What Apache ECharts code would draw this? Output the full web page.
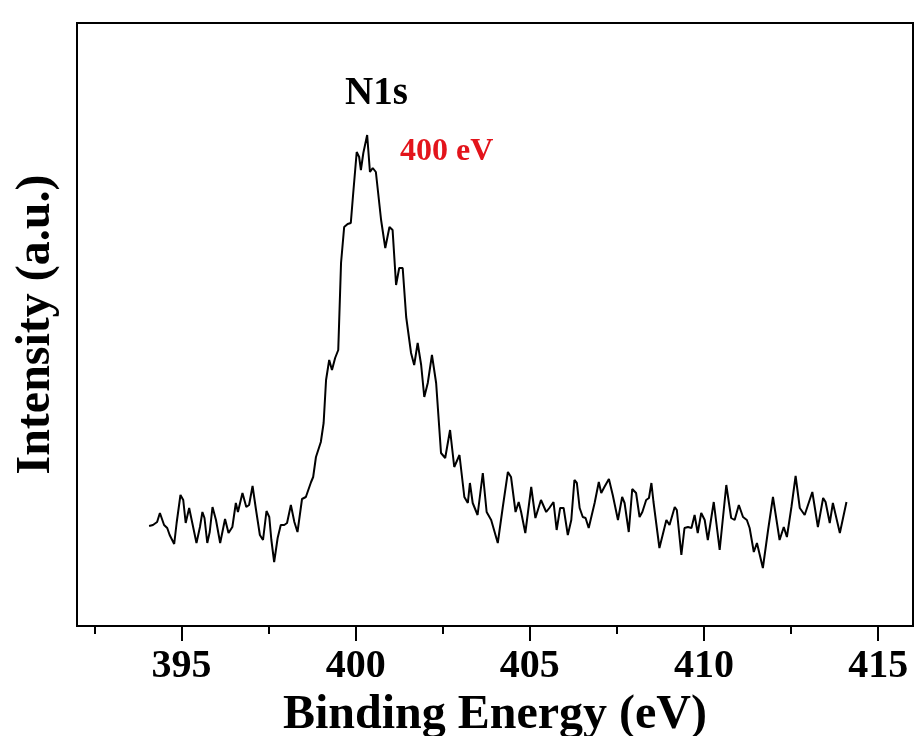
<!DOCTYPE html>
<html>
<head>
<meta charset="utf-8">
<script src="https://cdn.jsdelivr.net/npm/echarts@6/dist/echarts.min.js"></script>
<style>
  html, body { margin: 0; padding: 0; background: #fff; }
  #chart { width: 914px; height: 736px; }
</style>
</head>
<body>
<div id="chart"></div>
<script>
  // binding energy (eV) and intensity (a.u.)
  const energy = [
    394.07, 394.18, 394.30, 394.38, 394.43, 394.50, 394.59, 394.66, 394.79, 394.86,
    394.97, 395.05, 395.12, 395.22, 395.31, 395.43, 395.53, 395.60, 395.66, 395.74,
    395.81, 395.89, 395.99, 396.11, 396.25, 396.35, 396.46, 396.56, 396.62, 396.75,
    396.86, 396.94, 397.04, 397.14, 397.25, 397.34, 397.44, 397.52, 397.58, 397.66,
    397.76, 397.85, 397.95, 398.03, 398.14, 398.24, 398.33, 398.46, 398.57, 398.72,
    398.78, 398.86, 399.00, 399.08, 399.15, 399.24, 399.32, 399.41, 399.50, 399.58,
    399.67, 399.77, 399.86, 399.93, 400.03, 400.10, 400.15, 400.22, 400.33, 400.41,
    400.49, 400.58, 400.73, 400.85, 400.97, 401.06, 401.16, 401.25, 401.35, 401.45,
    401.59, 401.68, 401.78, 401.88, 401.97, 402.07, 402.19, 402.31, 402.45, 402.57,
    402.71, 402.83, 402.98, 403.12, 403.22, 403.28, 403.36, 403.50, 403.65, 403.76,
    403.89, 404.08, 404.22, 404.37, 404.46, 404.59, 404.68, 404.75, 404.87, 405.04,
    405.16, 405.32, 405.47, 405.56, 405.68, 405.77, 405.87, 405.97, 406.09, 406.19,
    406.28, 406.35, 406.43, 406.52, 406.60, 406.69, 406.86, 406.98, 407.05, 407.14,
    407.27, 407.38, 407.53, 407.65, 407.72, 407.84, 407.94, 408.05, 408.15, 408.23,
    408.34, 408.42, 408.49, 408.55, 408.72, 408.92, 409.01, 409.16, 409.22, 409.35,
    409.44, 409.54, 409.64, 409.73, 409.82, 409.92, 410.02, 410.11, 410.28, 410.45,
    410.64, 410.78, 410.88, 411.00, 411.12, 411.23, 411.31, 411.43, 411.52, 411.69,
    411.84, 411.98, 412.17, 412.29, 412.38, 412.51, 412.63, 412.75, 412.89, 413.11,
    413.27, 413.42, 413.49, 413.61, 413.70, 413.90, 414.09
  ];
  const intensity = [
    100, 101, 104, 113, 113, 101, 98, 91, 82, 103,
    131, 126, 103, 118, 103, 83, 99, 114, 108, 83,
    94, 119, 106, 83, 107, 93, 99, 123, 114, 133,
    119, 121, 140, 116, 91, 86, 115, 109, 86, 64,
    88, 101, 101, 103, 121, 104, 94, 127, 129, 144,
    149, 169, 184, 203, 246, 266, 256, 268, 276, 363,
    399, 402, 403, 433, 474, 469, 456, 473, 491, 454,
    458, 454, 406, 378, 399, 396, 341, 358, 358, 309,
    273, 261, 283, 261, 229, 243, 271, 243, 173, 168,
    196, 159, 171, 129, 123, 143, 123, 111, 153, 114,
    106, 83, 118, 154, 149, 114, 124, 114, 93, 139,
    108, 126, 114, 118, 124, 96, 118, 118, 91, 106,
    146, 143, 118, 109, 108, 98, 123, 144, 133, 139,
    147, 131, 106, 129, 123, 94, 137, 133, 109, 114,
    126, 128, 143, 124, 78, 106, 101, 119, 116, 71,
    98, 99, 98, 111, 93, 113, 106, 86, 124, 76,
    141, 108, 106, 121, 109, 106, 98, 74, 83, 58,
    96, 129, 86, 99, 89, 119, 150, 118, 111, 134,
    99, 128, 124, 103, 123, 93, 124
  ];
  const majorTicks = [395, 400, 405, 410, 415];
  const minorTicks = [392.5, 397.5, 402.5, 407.5, 412.5];

  const font = "'Liberation Serif', 'Times New Roman', serif";
  const chart = echarts.init(document.getElementById("chart"));

  chart.setOption({
    backgroundColor: "#fff",
    animation: false,
    grid: {
      left: 77, right: 1, top: 23, bottom: 110,
      outerBoundsMode: "none",
      containLabel: false,
      show: true, borderColor: "#000", borderWidth: 2, backgroundColor: "transparent",
    },
    xAxis: [
      {
        type: "value",
        min: 392,
        max: 416,
        name: "Binding Energy (eV)",
        nameLocation: "middle",
        nameGap: 53,
        nameTextStyle: { fontFamily: font, fontWeight: "bold", fontSize: 48, color: "#000" },
        axisLine: { show: true, lineStyle: { color: "#000", width: 2 } },
        axisTick: { show: true, customValues: majorTicks, length: 15, inside: false, lineStyle: { color: "#000", width: 2 } },
        axisLabel: {
          customValues: majorTicks,
          margin: 21,
          fontFamily: font, fontWeight: "bold", fontSize: 40, color: "#000",
        },
        splitLine: { show: false },
      },
      {
        type: "value",
        min: 392,
        max: 416,
        position: "bottom",
        axisLine: { show: false },
        axisTick: { show: true, customValues: minorTicks, length: 8, inside: false, lineStyle: { color: "#000", width: 2 } },
        axisLabel: { show: false },
        splitLine: { show: false },
      },
    ],
    yAxis: {
      type: "value",
      min: 0,
      max: 603,
      name: "Intensity (a.u.)",
      nameLocation: "middle",
      nameRotate: 90,
      nameGap: 16,
      nameTextStyle: { fontFamily: font, fontWeight: "bold", fontSize: 48, color: "#000" },
      axisLine: { show: true, lineStyle: { color: "#000", width: 2 } },
      axisTick: { show: false },
      axisLabel: { show: false },
      splitLine: { show: false },
    },
    graphic: [
      {
        type: "text",
        left: 345,
        top: 74,
        style: { text: "N1s", font: `bold 39px ${font}`, fill: "#000" },
      },
      {
        type: "text",
        left: 400,
        top: 136,
        style: { text: "400 eV", font: `bold 32px ${font}`, fill: "#e3141b" },
      },
    ],
    series: [
      {
        type: "line",
        xAxisIndex: 0,
        showSymbol: false,
        smooth: false,
        lineStyle: { color: "#000", width: 2 },
        data: energy.map((e, i) => [e, intensity[i]]),
      },
    ],
  });
</script>
</body>
</html>
